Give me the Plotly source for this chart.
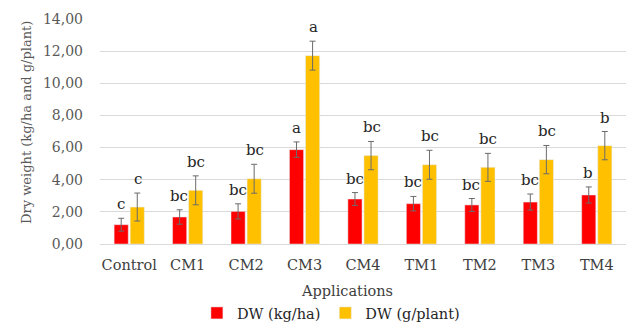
import plotly.graph_objects as go

# Treatments and measured dry weights
applications = ["Control", "CM1", "CM2", "CM3", "CM4", "TM1", "TM2", "TM3", "TM4"]
dw_kg_ha = [1.20, 1.68, 2.03, 5.87, 2.80, 2.51, 2.43, 2.61, 3.05]
dw_kg_ha_err = [0.40, 0.45, 0.47, 0.48, 0.40, 0.45, 0.40, 0.50, 0.50]
dw_g_plant = [2.30, 3.34, 4.06, 11.72, 5.50, 4.93, 4.77, 5.25, 6.12]
dw_g_plant_err = [0.87, 0.90, 0.90, 0.90, 0.88, 0.90, 0.87, 0.88, 0.88]
letters_kg_ha = ["c", "bc", "bc", "a", "bc", "bc", "bc", "bc", "b"]
letters_g_plant = ["c", "bc", "bc", "a", "bc", "bc", "bc", "bc", "b"]
y_ticks = [0, 2, 4, 6, 8, 10, 12, 14]

FONT = "DejaVu Serif"
RED = "#ff0000"
GOLD = "#ffc000"
ERR = "#6b6b6b"

fig = go.Figure()
fig.add_trace(go.Bar(
    name="DW (kg/ha)", x=applications, y=dw_kg_ha, marker_color=RED,
    error_y=dict(type="data", array=dw_kg_ha_err, color=ERR, thickness=1, width=3),
))
fig.add_trace(go.Bar(
    name="DW (g/plant)", x=applications, y=dw_g_plant, marker_color=GOLD,
    error_y=dict(type="data", array=dw_g_plant_err, color=ERR, thickness=1, width=3),
))

# Significance letters above each error bar
annotations = []
for cat, v, e, t in zip(applications, dw_kg_ha, dw_kg_ha_err, letters_kg_ha):
    annotations.append(dict(x=cat, y=v + e, text=t, showarrow=False, xshift=-8.5,
                            yanchor="bottom", yshift=3,
                            font=dict(family=FONT, size=15, color="#262626")))
for cat, v, e, t in zip(applications, dw_g_plant, dw_g_plant_err, letters_g_plant):
    annotations.append(dict(x=cat, y=v + e, text=t, showarrow=False, xshift=8.5,
                            yanchor="bottom", yshift=3,
                            font=dict(family=FONT, size=15, color="#262626")))

# Axis titles
annotations.append(dict(x=0.469, y=-0.209, xref="paper", yref="paper",
                        text="Applications", showarrow=False,
                        xanchor="center", yanchor="middle",
                        font=dict(family=FONT, size=14.5, color="#404040")))
annotations.append(dict(x=-0.141, y=0.542, xref="paper", yref="paper",
                        text="Dry weight (kg/ha and g/plant)", showarrow=False,
                        textangle=-90, xanchor="center", yanchor="middle",
                        font=dict(family=FONT, size=13, color="#595959")))

fig.update_layout(
    width=626, height=324,
    margin=dict(l=100, r=0, t=19, b=80, autoexpand=False),
    paper_bgcolor="white", plot_bgcolor="white",
    barmode="group", bargap=0.45, bargroupgap=0.12,
    font=dict(family=FONT, size=14.5, color="#404040"),
    showlegend=True,
    legend=dict(orientation="h", x=0.439, y=(324 - 313) / 324, yref="container",
                xanchor="center", yanchor="middle",
                font=dict(family=FONT, size=14.5, color="#262626"),
                itemwidth=30, tracegroupgap=0),
    annotations=annotations,
)
fig.update_xaxes(showgrid=False, showline=False, ticks="", automargin=False,
                 ticklabelstandoff=10,
                 tickfont=dict(family=FONT, size=14.5, color="#404040"))
fig.update_yaxes(range=[0, 14], tickvals=y_ticks, automargin=False,
                 ticktext=[f"{v:.2f}".replace(".", ",") for v in y_ticks],
                 showgrid=True, gridcolor="#d9d9d9", gridwidth=1,
                 zeroline=True, zerolinecolor="#d9d9d9", zerolinewidth=1,
                 ticks="", ticklabelstandoff=16,
                 tickfont=dict(family=FONT, size=14, color="#595959"))

fig.write_html("out.html")
